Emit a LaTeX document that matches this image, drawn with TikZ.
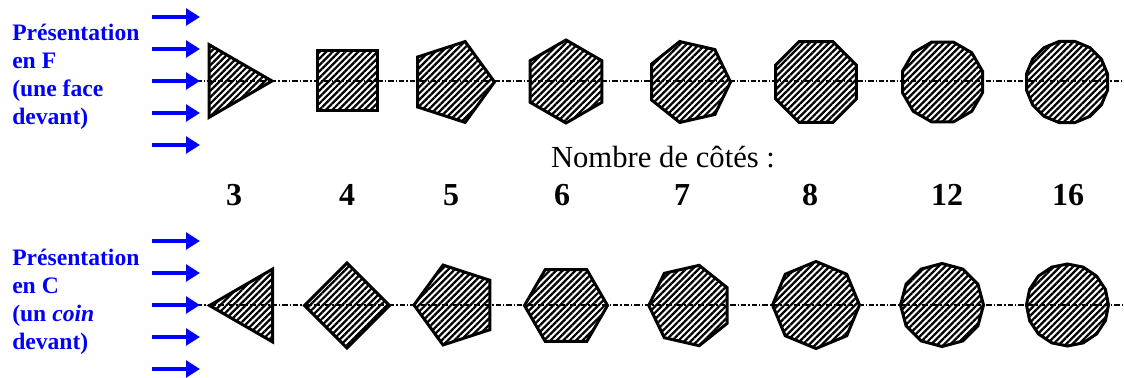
\documentclass[tikz,border=0pt]{standalone}
\usepackage{fontspec}
\setmainfont{Liberation Serif}
\usetikzlibrary{shapes.geometric,arrows.meta,patterns.meta}
\definecolor{pblue}{RGB}{0,0,255}
\begin{document}
\begin{tikzpicture}[x=0.75pt,y=-0.75pt,
  poly/.style={regular polygon, draw=black, line width=2.25pt,
    pattern={Lines[angle=45,distance=3.4pt,line width=1.7pt]},
    inner sep=0pt, outer sep=0pt},
  axisline/.style={line width=0.8pt, dash pattern=on 4pt off 1.6pt on 0.8pt off 1.6pt},
  barrow/.style={draw=pblue, line width=3pt, -{Triangle[length=10.5pt,width=12.5pt]}},
  bluetxt/.style={text=pblue, font=\fontsize{17.7}{21}\selectfont\bfseries, align=left, inner sep=0pt, anchor=north west},
  num/.style={font=\fontsize{24}{28}\selectfont\bfseries, anchor=base, inner sep=0pt},
  ttl/.style={font=\fontsize{23}{27}\selectfont, anchor=base, inner sep=0pt}
]
\useasboundingbox (0,0) rectangle (1124,378);
% axis lines
\coordinate (axFs) at (175,81);
\coordinate (axFe) at (1124,81);
\coordinate (axCs) at (197,305);
\coordinate (axCe) at (1122,305);
\draw[axisline] (axFs) -- (axFe);
\draw[axisline] (axCs) -- (axCe);
% arrows
\foreach \i/\yy in {1/17,2/49,3/81,4/113,5/145}{
  \coordinate (fa\i s) at (152,\yy);
  \coordinate (fa\i e) at (200,\yy);
  \draw[barrow] (fa\i s) -- (fa\i e);
}
\foreach \i/\yy in {1/241,2/273,3/305,4/337,5/369}{
  \coordinate (ca\i s) at (152,\yy);
  \coordinate (ca\i e) at (200,\yy);
  \draw[barrow] (ca\i s) -- (ca\i e);
}
% top row (face in front)
\foreach \nm/\cx/\cy/\n/\r/\rot in {
  f3/230/81/3/42/-90,
  f4/347.5/80.5/4/42.4/0,
  f5/452/82/5/42.5/-90,
  f6/566/81.5/6/41.5/30,
  f7/689/82/7/41.5/-90,
  f8/816/82/8/43.8/0,
  f12/942.5/82/12/41.4/0,
  f16/1067/82/16/41.3/0}{
  \node[poly, regular polygon sides=\n, minimum size={2*\r*0.75pt}, shape border rotate=\rot] (\nm) at (\cx,\cy) {};
}
% bottom row (corner in front)
\foreach \nm/\cx/\cy/\n/\r/\rot in {
  c3/251.5/305.5/3/42/90,
  c4/347/305.5/4/42.5/45,
  c5/456/305/5/42/90,
  c6/566/305.5/6/41.5/0,
  c7/690/305.5/7/41.2/90,
  c8/816/305/8/43.5/22.5,
  c12/942/305/12/41.5/15,
  c16/1067.5/305/16/41/11.25}{
  \node[poly, regular polygon sides=\n, minimum size={2*\r*0.75pt}, shape border rotate=\rot] (\nm) at (\cx,\cy) {};
}
% texts
\node[bluetxt] (tF) at (12,24) {Présentation\\en F\\(une face\\devant)};
\node[bluetxt] (tC) at (12,249) {Présentation\\en C\\(un \textit{coin}\\devant)};
\node[ttl] (title) at (663,167) {Nombre de côtés :};
\foreach \nm/\x/\t in {n3/234/3,n4/347/4,n5/451/5,n6/562/6,n7/682/7,n8/810/8,n12/947/12,n16/1068/16}{
  \node[num] (\nm) at (\x,205) {\t};
}
\end{tikzpicture}
\end{document}
